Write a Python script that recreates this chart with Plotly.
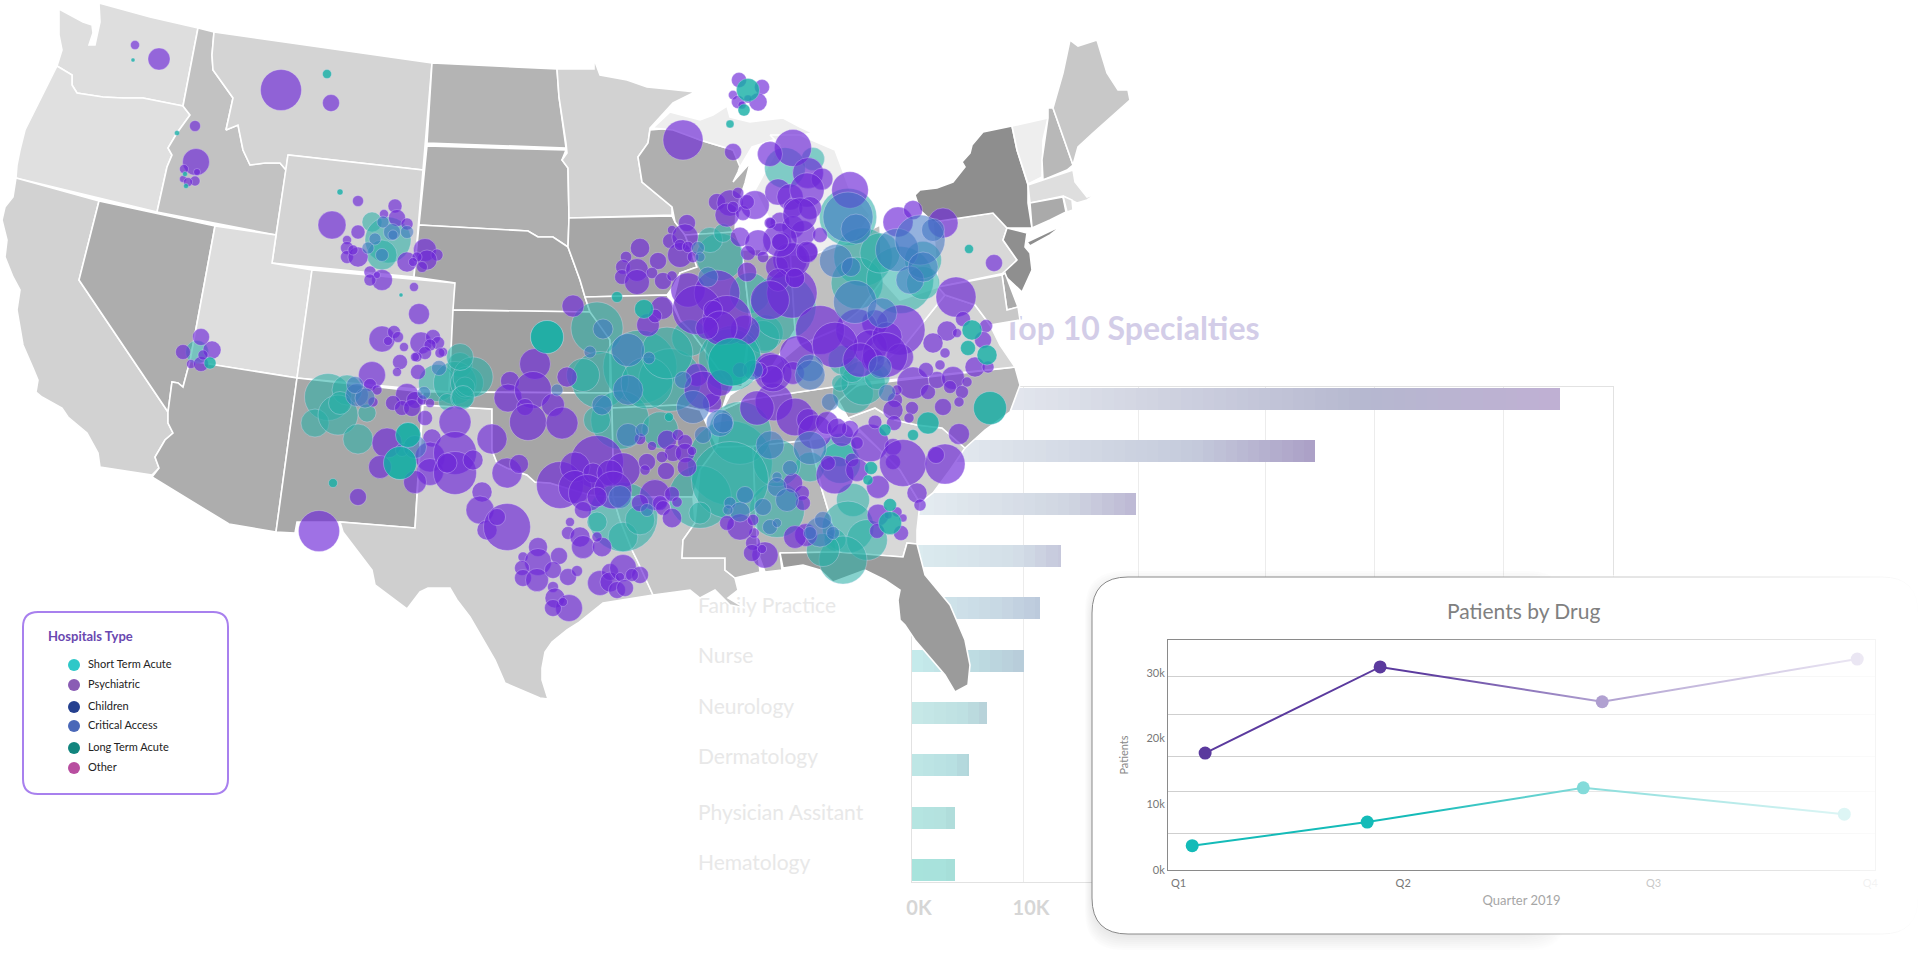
import math
import plotly.graph_objects as go

W, H = 1920, 968
FONT = "Lato"

# ---------- bar chart data ----------
BAR_VALUES = [57.9, 36.0, 20.0, 13.3, 11.4, 10.0, 6.7, 5.1, 3.8, 3.8]
BAR_RANK = [1, 2, 3, 4, 5, 6, 7, 8, 9, 10]
BAR_LEFT = ["#f0f4f6", "#e8eef2", "#e6eef2", "#dcecf0", "#d4eaee", "#c6ecec", "#c8eae8", "#bfe8e6", "#b6e6e2", "#a8e4dd"]
BAR_MID = ["#b6b8d0", "#c5cbdc", "#d0d6e2", "#d4dfe8", "#c8d8e4", "#bcd8e0", "#bee0e2", "#b8e0e2", "#b4e2df", "#a8e2dc"]
BAR_RIGHT = ["#c0b0d4", "#aba0c6", "#bdb8d4", "#c6c8dc", "#bccadc", "#b8cbd9", "#b8d2da", "#b2d6da", "#afdcda", "#a6dfd9"]
LABELS = ["Family Practice", "Nurse", "Neurology", "Dermatology", "Physician Assitant", "Hematology"]
LABEL_PX_Y = [608, 658, 709, 759, 815, 865]
BAR_TICKS = [0, 10, 20.2, 31.6, 41.3, 52.8]
BAR_TICKTEXT = ["0K", "10K", "", "", "", ""]

# ---------- line chart data ----------
QUARTER_TICKS = [1, 1.974, 3.06, 4]
QUARTER_TEXT = ["Q1", "Q2", "Q3", "Q4"]
DRUG_A_X = [1.115, 1.874, 2.837, 3.943]
DRUG_A_Y = [17.8, 30.9, 25.6, 32.1]
DRUG_B_X = [1.059, 1.818, 2.755, 3.887]
DRUG_B_Y = [3.7, 7.3, 12.5, 8.5]
GRID_VALUES = [5.5, 11.9, 17.2, 23.7, 29.4]

# ---------- legend ----------
LEG_NAMES = ["Short Term Acute", "Psychiatric", "Children", "Critical Access", "Long Term Acute", "Other"]
LEG_COLORS = ["#2ec8c8", "#8a5cb4", "#25408f", "#4a68b8", "#12857e", "#b84ea0"]
LEG_Y = [665, 685, 707, 726, 748, 768]

# ---------- map ----------
STATES = {
 "WA": ("#dedede", [(99,3),(150,17),(198,28),(183,106),(143,98),(123,98),(103,97),(77,93),(72,85),(72,75),(57,66),(62,50),(59,35),(59,9),(83,22),(92,25),(93,33),(89,45),(95,45),(100,22)]),
 "OR": ("#e0e0e0", [(57,66),(72,75),(72,85),(77,93),(103,97),(123,98),(143,98),(183,106),(190,115),(177,133),(168,148),(172,155),(167,167),(157,212),(16,178),(17,165),(20,150),(25,130),(40,100)]),
 "CA": ("#d2d2d2", [(16,178),(99,201),(79,280),(168,412),(168,423),(173,433),(165,440),(155,457),(159,468),(152,475),(100,467),(98,453),(87,433),(80,427),(68,417),(62,408),(42,397),(36,392),(38,380),(33,368),(23,345),(17,310),(20,290),(13,277),(5,257),(7,240),(2,220),(5,207),(13,197)]),
 "NV": ("#adadad", [(99,201),(215,226),(190,361),(187,372),(183,387),(178,383),(172,382),(168,412),(79,280)]),
 "ID": ("#c2c2c2", [(198,28),(214,32),(212,55),(213,70),(233,98),(228,120),(226,130),(238,125),(243,150),(250,165),(265,163),(280,163),(286,170),(276,235),(157,212),(167,167),(172,155),(168,148),(177,133),(190,115),(183,106)]),
 "MT": ("#d4d4d4", [(214,32),(432,63),(423,170),(288,155),(286,170),(280,163),(265,163),(250,165),(243,150),(238,125),(226,130),(228,120),(233,98),(213,70),(212,55)]),
 "WY": ("#d4d4d4", [(288,155),(423,170),(414,277),(272,263)]),
 "UT": ("#dedede", [(215,226),(276,235),(272,263),(312,270),(297,378),(190,361)]),
 "AZ": ("#adadad", [(190,361),(297,378),(276,532),(229,524),(152,477),(159,468),(155,457),(165,440),(173,433),(168,423),(168,412),(172,382),(178,383),(183,387),(187,372)]),
 "CO": ("#d2d2d2", [(312,270),(455,283),(449,392),(297,378)]),
 "NM": ("#a8a8a8", [(297,378),(423,392),(415,528),(340,522),(297,522),(295,533),(276,532)]),
 "TX": ("#cfcfcf", [(423,405),(492,409),(492,450),(497,463),(507,468),(527,475),(535,482),(550,483),(590,495),(613,497),(620,520),(632,550),(637,560),(653,595),(603,603),(578,623),(567,630),(552,642),(545,652),(542,668),(542,680),(548,699),(540,698),(505,683),(495,660),(483,640),(470,617),(457,600),(450,588),(428,588),(420,592),(407,609),(375,585),(372,570),(343,532),(340,522),(415,528)]),
 "ND": ("#b4b4b4", [(432,63),(557,69),(559,97),(566,148),(427,143)]),
 "SD": ("#afafaf", [(427,146),(566,150),(562,160),(568,168),(569,218),(568,247),(553,237),(538,237),(528,231),(419,225)]),
 "NE": ("#a6a6a6", [(419,225),(528,231),(538,237),(553,237),(568,247),(580,280),(585,297),(590,312),(453,310),(455,283),(414,277)]),
 "KS": ("#a0a0a0", [(453,310),(590,312),(607,333),(610,340),(610,393),(449,392)]),
 "OK": ("#a6a6a6", [(423,392),(449,392),(610,393),(612,408),(613,455),(613,497),(590,495),(550,483),(535,482),(527,475),(507,468),(497,463),(492,450),(492,409),(423,405)]),
 "MN": ("#d2d2d2", [(557,69),(594,69),(594,59),(600,75),(627,80),(647,87),(667,89),(695,92),(673,103),(650,128),(648,143),(638,157),(642,182),(672,207),(672,215),(569,218),(568,168),(562,160),(567,153),(566,143),(559,97)]),
 "IA": ("#a6a6a6", [(569,218),(672,216),(675,222),(685,235),(697,267),(680,273),(673,287),(667,295),(585,297),(580,280),(568,247)]),
 "MO": ("#a6a6a6", [(585,297),(667,295),(680,320),(690,330),(712,360),(730,385),(722,410),(700,410),(678,405),(612,408),(610,340),(590,312)]),
 "AR": ("#a4a4a4", [(612,408),(678,405),(700,410),(717,447),(700,470),(693,497),(613,497),(613,455)]),
 "LA": ("#c8c8c8", [(613,497),(693,497),(695,523),(683,540),(682,558),(725,558),(725,570),(735,578),(738,590),(728,598),(745,608),(730,605),(715,590),(700,598),(690,590),(673,592),(653,595),(637,560),(632,550),(620,520)]),
 "MS": ("#b8b8b8", [(717,447),(753,446),(755,500),(758,553),(760,572),(735,578),(725,570),(725,558),(682,558),(683,540),(695,523),(700,470)]),
 "AL": ("#b8b8b8", [(753,446),(810,440),(822,490),(832,523),(837,552),(780,553),(782,570),(765,572),(758,553),(755,500)]),
 "GA": ("#d8d8d8", [(810,440),(860,432),(880,450),(900,470),(920,503),(917,530),(917,544),(907,543),(903,557),(837,552),(832,523),(822,490)]),
 "FL": ("#9b9b9b", [(780,553),(837,552),(903,557),(907,543),(917,544),(925,575),(950,605),(965,640),(970,665),(968,685),(955,692),(945,675),(915,640),(905,625),(900,620),(898,600),(900,590),(885,580),(865,570),(833,582),(820,570),(803,565),(783,568)]),
 "SC": ("#d0d0d0", [(848,418),(875,408),(895,420),(917,425),(942,428),(965,448),(950,470),(933,493),(920,503),(900,470),(880,450)]),
 "NC": ("#b5b5b5", [(848,418),(875,408),(895,420),(917,425),(942,428),(965,448),(985,430),(1010,412),(1020,385),(1015,367),(860,385),(835,395)]),
 "TN": ("#b0b0b0", [(717,447),(722,410),(745,400),(860,383),(840,400),(810,440),(753,446)]),
 "KY": ("#c4c4c4", [(722,410),(730,395),(742,387),(770,370),(800,345),(835,330),(860,345),(850,370),(860,383),(745,400)]),
 "VA": ("#d5d5d5", [(860,383),(880,365),(905,345),(925,320),(945,295),(960,300),(975,305),(990,325),(1000,345),(1015,367)]),
 "WV": ("#e0e0e0", [(882,280),(900,300),(938,287),(945,295),(925,320),(905,345),(880,365),(860,345),(835,330),(860,310)]),
 "WI": ("#afafaf", [(650,130),(673,128),(700,140),(733,150),(742,160),(738,172),(733,182),(750,163),(745,183),(736,210),(735,232),(685,235),(675,222),(672,207),(642,182),(638,157),(648,143)]),
 "IL": ("#a8a8a8", [(685,235),(735,232),(742,250),(750,320),(745,360),(742,387),(730,385),(712,360),(690,330),(680,320),(673,302),(680,273),(697,267)]),
 "IN": ("#b0b0b0", [(742,250),(790,248),(795,330),(770,370),(745,375),(750,320)]),
 "OH": ("#c0c0c0", [(790,248),(812,255),(850,240),(880,225),(882,280),(860,310),(835,330),(800,345),(795,330)]),
 "MIU": ("#eeeeee", [(653,128),(670,112),(700,120),(713,115),(727,106),(730,117),(750,122),(783,118),(800,127),(813,133),(773,140),(752,147),(740,167),(733,150),(700,140),(673,130)]),
 "MIL": ("#eeeeee", [(770,135),(800,135),(835,150),(850,190),(870,215),(855,240),(812,255),(760,255),(770,220),(755,190),(780,145)]),
 "PA": ("#d8d8d8", [(933,222),(993,213),(1007,228),(1003,240),(1017,260),(1005,273),(938,287)]),
 "NY": ("#8e8e8e", [(915,195),(920,190),(937,188),(953,182),(965,167),(962,162),(970,153),(972,145),(983,132),(1012,126),(1017,150),(1028,185),(1028,203),(1032,228),(1007,228),(993,213),(933,222),(920,210)]),
 "LI": ("#8e8e8e", [(1027,242),(1053,230),(1063,225),(1050,235),(1030,246)]),
 "NJ": ("#8f8f8f", [(1007,228),(1027,233),(1025,247),(1030,253),(1032,270),(1022,292),(1007,278),(1003,273),(1017,260),(1003,240)]),
 "VT": ("#eeeeee", [(1012,126),(1048,118),(1043,140),(1042,177),(1028,184),(1017,150)]),
 "NH": ("#b8b8b8", [(1048,108),(1053,108),(1073,165),(1067,170),(1043,180),(1042,160),(1048,118)]),
 "ME": ("#c8c8c8", [(1053,108),(1063,73),(1070,40),(1078,46),(1097,40),(1107,73),(1118,90),(1128,90),(1130,100),(1107,120),(1093,133),(1078,147),(1073,165)]),
 "MA": ("#dedede", [(1028,185),(1073,170),(1075,182),(1087,197),(1098,193),(1087,200),(1077,203),(1063,196),(1030,203)]),
 "CT": ("#aaaaaa", [(1030,203),(1063,197),(1066,212),(1050,220),(1032,228)]),
 "RI": ("#dddddd", [(1063,196),(1072,200),(1073,210),(1067,212)]),
 "DE": ("#aaaaaa", [(1002,275),(1005,273),(1018,307),(1007,310)]),
 "MD": ("#c8c8c8", [(938,287),(1002,275),(1007,310),(1018,307),(1020,320),(990,325),(975,305),(960,300),(945,295)]),
}

# ---------- bubbles (x, y, diameter) ----------
SHORT_TERM = [
 (372,222,20),(388,240,46),(382,255,30),(197,352,23),
 (460,365,25),(437,383,37),(455,383,43),(467,383,33),(447,402,17),(462,398,23),(465,387,20),(473,377,40),(460,357,27),(463,397,23),
 (328,397,47),(347,390,30),(315,423,28),(338,415,40),(358,439,30),(367,413,18),(340,403,23),
 (408,435,25),(400,463,33),
 (623,517,63),(597,522,20),(623,537,27),(640,520,27),
 (547,337,33),(597,328,52),
 (640,367,67),(600,380,57),(583,375,33),(620,420,53),(660,430,33),(597,420,27),(670,380,57),(690,338,33),(647,383,47),(667,353,47),
 (720,257,43),(710,240,23),(723,233,17),(750,293,37),(765,333,33),(733,353,50),
 (848,217,52),(863,257,53),(857,283,47),(900,280,67),(923,283,33),(923,260,37),(880,253,40),(813,159,23),(785,168,37),
 (763,337,30),(730,360,57),(783,307,60),(843,360,27),
 (853,393,37),(863,383,40),(840,383,15),(852,370,23),(877,377,23),
 (840,450,30),(840,463,37),(810,467,27),
 (853,500,30),(848,527,47),(867,540,37),(835,540,20),(843,560,48),(823,550,30),
 (730,463,77),(740,433,57),(777,510,50),(777,463,43),(700,497,57),(730,480,70),(700,513,20),
]
PSYCHIATRIC = [
 (135,45,9),(159,59,22),(281,90,41),(331,103,17),(195,126,11),(196,162,27),(184,169,9),(197,172,7),(195,181,10),(183,179,7),(188,182,9),
 (358,201,11),(332,225,28),(395,206,14),(384,214,9),(397,218,17),(407,224,12),(358,232,14),(347,240,9),(347,248,13),(347,257,13),(358,257,20),(353,250,10),
 (425,250,23),(407,262,20),(437,255,12),(427,260,20),(417,257,10),(422,267,11),(413,262,9),(370,272,12),(382,280,21),(370,280,12),(377,275,7),
 (414,287,9),(419,314,21),(994,263,17),(183,352,15),(212,350,18),(201,337,17),(191,364,9),(201,364,15),(203,355,10),
 (382,339,26),(394,332,13),(388,341,9),(398,337,11),(404,347,9),(421,343,22),(433,337,15),(438,343,13),(430,345,12),(443,352,9),(425,353,13),(417,357,10),
 (400,362,15),(397,372,9),(415,357,9),(418,372,15),(440,353,10),
 (372,375,27),(370,385,13),(377,390,10),(373,402,10),
 (407,395,23),(393,403,15),(402,408,15),(415,400,17),(412,408,17),(425,418,15),(422,400,10),(430,403,9),
 (387,443,30),(380,467,23),(432,438,18),(430,457,30),(430,472,27),(415,482,23),(455,422,32),(455,453,43),(455,473,43),(447,463,20),(473,460,20),
 (358,497,17),(319,531,41),
 (535,364,31),(510,381,19),(508,398,28),(533,390,37),(525,407,17),(553,405,23),(528,422,37),(562,423,32),(567,377,20),
 (492,439,30),(482,492,20),(480,510,28),(487,530,20),(507,527,47),(497,517,17),(507,473,30),(519,464,19),
 (597,462,53),(560,485,47),(575,467,30),(575,487,33),(593,473,20),(623,470,30),(610,473,23),(587,493,37),(613,490,33),(597,497,20),(583,510,17),
 (570,522,9),(568,533,13),(580,537,20),(583,547,23),(602,547,17),(597,537,10),
 (655,495,27),(640,503,15),(660,503,13),(672,494,13),(677,502,9),(663,508,13),(672,518,17),
 (538,547,19),(523,557,10),(538,562,27),(559,556,17),(522,568,15),(523,578,17),(537,580,23),(553,570,17),(568,577,17),(577,571,11),(553,587,11),(555,598,20),(569,608,27),(553,608,17),(563,602,9),
 (600,583,25),(610,572,17),(610,582,20),(623,568,27),(640,575,17),(617,590,17),(620,577,9),(632,575,13),(625,588,17),
 (573,306,22),(662,308,20),(648,325,20),(655,316,12),
 (687,223,15),(672,230,8),(670,241,13),(685,237,23),(680,255,22),(680,245,10),(688,247,10),(693,257,10),
 (640,248,17),(626,257,10),(658,261,15),(623,267,13),(622,277,13),(637,270,20),(637,282,22),(652,273,10),(663,281,15),(672,276,9),
 (683,140,40),(733,152,17),(739,80,15),(762,87,15),(758,102,18),(733,95,9),(738,102,13),(748,99,8),(742,105,8),
 (717,202,15),(730,203,23),(755,205,25),(727,215,21),(743,213,13),(738,193,10),(747,202,13),(733,207,10),
 (793,148,37),(770,154,25),(808,173,27),(822,179,19),(778,192,23),(790,197,23),(807,190,30),(793,208,17),(810,208,20),(780,222,17),(771,223,9),(793,227,20),(803,233,22),(820,235,13),(782,242,17),(790,260,30),(808,252,17),(777,267,20),(795,278,17),
 (850,190,32),(898,222,30),(913,210,19),(943,223,30),(956,297,40),
 (900,330,50),(875,323,23),(857,330,37),(870,347,30),(887,337,30),(900,357,27),(873,360,20),
 (792,293,44),(793,260,30),(807,252,19),(778,280,20),(795,278,17),(820,330,43),(797,353,30),(770,368,27),(757,370,13),
 (835,345,40),(885,355,45),(860,360,30),(780,240,30),(800,215,30),(770,300,34),(745,330,26),
 (740,237,17),(758,243,23),(748,253,13),(763,257,10),(747,272,17),(770,223,10),(780,242,15),
 (688,290,30),(717,293,40),(697,310,43),(727,320,43),(713,310,17),(720,328,30),(707,328,20),
 (774,402,33),(757,408,30),(795,417,33),(808,420,20),(815,432,30),(827,423,20),(842,435,20),(850,429,15),(837,428,17),
 (835,475,33),(852,460,12),(828,463,13),(870,443,33),(857,443,11),(893,447,17),(893,462,15),(903,463,47),(945,464,40),(936,455,17),(857,470,20),(878,487,20),(917,493,20),(920,505,12),
 (806,535,20),(795,537,20),
 (878,515,19),(897,512,10),(888,515,8),(903,518,8),(901,533,15),(877,531,13),
 (765,555,23),(753,543,13),(752,553,15),(762,549,8),(754,533,9),
 (793,483,17),(802,493,13),(803,503,13),(740,527,23),(727,523,13),(753,520,10),
 (697,375,20),(712,403,17),(703,390,33),(720,383,23),(740,370,13),(773,373,33),
 (667,440,17),(678,435,10),(685,442,13),(673,453,15),(685,453,17),(662,457,10),(692,451,8),(687,467,17),(647,462,15),(666,471,15),(645,470,9),(640,439,10),(652,446,8),
 (947,331,20),(933,343,20),(963,319,15),(986,326,13),(957,333,9),(983,340,17),(945,353,10),(940,365,10),(975,367,20),(988,367,12),
 (913,383,32),(928,392,15),(895,400,15),(893,410,20),(912,408,13),(943,407,17),(937,380,17),(953,378,23),(950,387,13),(962,392,13),(959,402,10),(967,382,10),(926,370,15),(875,422,12),(894,423,15),(909,418,10),(959,434,21),(897,390,10),
 (793,373,20),(772,377,20),(760,370,13),
]
CRITICAL_ACCESS = [
 (392,232,17),(407,232,13),(383,222,12),(375,239,12),(368,248,12),(382,255,13),(393,235,10),
 (357,395,23),(365,398,20),(355,385,17),(424,393,13),(402,450,13),(415,447,23),(439,368,15),(557,390,12),
 (620,497,23),(647,510,13),(603,329,20),(590,352,12),(628,390,30),(628,350,33),(602,405,20),(649,358,12),
 (698,248,13),(700,257,10),(708,277,20),
 (848,217,50),(856,229,30),(836,261,33),(851,267,19),(897,250,43),(920,240,50),(933,230,23),(910,280,28),(923,267,30),
 (855,302,43),(882,313,30),(880,367,23),(810,368,27),(810,375,30),
 (810,448,33),(887,393,17),(830,402,17),
 (820,532,30),(823,520,17),(833,533,13),(810,533,13),
 (720,423,27),(770,445,28),(790,468,15),(745,495,17),(730,503,12),(777,477,10),(777,487,19),(787,500,23),(763,507,17),(770,527,15),(777,523,9),(740,512,20),(728,510,10),
 (693,407,33),(723,423,20),(703,435,17),(683,380,17),(628,435,23),(642,430,13),(753,370,20),
]
LONG_TERM = [
 (133,60,4),(327,74,9),(177,133,5),(185,174,5),(186,186,5),(340,192,6),(401,295,4),(210,363,12),(333,483,9),
 (617,297,11),(644,309,19),(669,417,9),(730,124,8),(748,90,23),(744,110,12),
 (972,330,20),(968,348,15),(987,355,20),(990,408,33),(928,423,22),(913,435,11),(885,430,12),
 (871,468,13),(868,480,10),(890,505,13),(890,523,23),(547,337,33),(408,435,25),(400,463,33),(732,362,48),
 (969,249,9),
]

# ---------- rendering helpers ----------
def hex_rgb(c):
    return [int(c[i:i+2], 16) for i in (1, 3, 5)]

def mix(a, b, t):
    return [a[i] + (b[i] - a[i]) * t for i in range(3)]

def grad(i, t):
    l, m, r = hex_rgb(BAR_LEFT[i]), hex_rgb(BAR_MID[i]), hex_rgb(BAR_RIGHT[i])
    c = mix(l, m, t / 0.7) if t < 0.7 else mix(m, r, (t - 0.7) / 0.3)
    return "rgb(%d,%d,%d)" % tuple(c)

def round_rect(x0, y0, x1, y1, r):
    return (f"M{x0+r},{y0} L{x1-r},{y0} Q{x1},{y0} {x1},{y0+r} L{x1},{y1-r} Q{x1},{y1} {x1-r},{y1} "
            f"L{x0+r},{y1} Q{x0},{y1} {x0},{y1-r} L{x0},{y0+r} Q{x0},{y0} {x0+r},{y0} Z")

fig = go.Figure()

# ---- subplot 1: texts that sit under the map ----
fig.add_trace(go.Scatter(
    x=[698] * len(LABELS), y=LABEL_PX_Y, text=LABELS, mode="text",
    textposition="middle right", textfont=dict(family=FONT, size=21, color="#e8e8e8"),
    xaxis="x", yaxis="y", showlegend=False, hoverinfo="skip"))
fig.add_trace(go.Scatter(
    x=[1003], y=[332], text=["Top 10 Specialties"], mode="text",
    textposition="middle right", textfont=dict(family=FONT, size=32, color="#d3cde8", weight=700),
    xaxis="x", yaxis="y", showlegend=False, hoverinfo="skip"))

# ---- subplot 2: bars, one stacked slice per 1K so the gradient reads through ----
SLICE = 1.0
for s in range(math.ceil(max(BAR_VALUES) / SLICE)):
    lens = [max(0.0, min(SLICE, v - s * SLICE)) for v in BAR_VALUES]
    cols = [grad(i, min(1.0, (s + 0.5) * SLICE / BAR_VALUES[i])) for i in range(len(BAR_VALUES))]
    fig.add_trace(go.Bar(
        x=lens, y=BAR_RANK, orientation="h", width=0.42,
        marker=dict(color=cols, line=dict(width=0)),
        xaxis="x2", yaxis="y2", showlegend=False, hoverinfo="skip"))

# ---- subplot 3: map ----
for name, (color, pts) in STATES.items():
    xs = [p[0] for p in pts] + [pts[0][0]]
    ys = [p[1] for p in pts] + [pts[0][1]]
    fig.add_trace(go.Scatter(x=xs, y=ys, mode="lines", fill="toself", fillcolor=color,
                             line=dict(color="#ffffff", width=1.6), xaxis="x3", yaxis="y3",
                             showlegend=False, hoverinfo="skip", name=name))

def dense(b):
    return 600 < b[0] < 880 and 160 < b[1] < 560

def bubbles(data, color, name, grow=1.0):
    fig.add_trace(go.Scatter(
        x=[b[0] for b in data], y=[b[1] for b in data], mode="markers", name=name,
        marker=dict(size=[b[2] * grow if dense(b) else b[2] for b in data], color=color, opacity=1,
                    line=dict(color="rgba(235,230,255,0.30)", width=1)),
        xaxis="x3", yaxis="y3", showlegend=False))

bubbles(SHORT_TERM, "rgba(40,175,165,0.56)", "Short Term Acute", 1.1)
bubbles(PSYCHIATRIC, "rgba(110,40,215,0.66)", "Psychiatric", 1.14)
bubbles(CRITICAL_ACCESS, "rgba(60,115,195,0.55)", "Critical Access")
bubbles(LONG_TERM, "rgba(20,175,165,0.80)", "Long Term Acute")

# legend inside the map layer
fig.add_trace(go.Scatter(x=[74] * 6, y=LEG_Y, mode="markers",
                         marker=dict(size=12, color=LEG_COLORS, opacity=1), xaxis="x3", yaxis="y3",
                         showlegend=False, hoverinfo="skip"))
fig.add_trace(go.Scatter(x=[88] * 6, y=LEG_Y, mode="text", text=LEG_NAMES, textposition="middle right",
                         textfont=dict(family=FONT, size=11, color="#222222"), xaxis="x3", yaxis="y3",
                         showlegend=False, hoverinfo="skip"))
fig.add_trace(go.Scatter(x=[48], y=[638], mode="text", text=["Hospitals Type"], textposition="middle right",
                         textfont=dict(family=FONT, size=13, color="#6a48b0", weight=700), xaxis="x3", yaxis="y3",
                         showlegend=False, hoverinfo="skip"))

# ---- subplot 4: card background (needs one trace so the layer exists) ----
fig.add_trace(go.Scatter(x=[1092], y=[934], mode="markers", marker=dict(size=1, color="rgba(255,255,255,0)"),
                         xaxis="x4", yaxis="y4", showlegend=False, hoverinfo="skip"))

# ---- subplot 5: line chart ----
fig.add_trace(go.Scatter(x=DRUG_A_X, y=DRUG_A_Y, mode="lines+markers", name="Drug A",
                         line=dict(color="#5b3a9e", width=2), marker=dict(size=13, color="#5b3a9e"),
                         xaxis="x5", yaxis="y5", showlegend=False))
fig.add_trace(go.Scatter(x=DRUG_B_X, y=DRUG_B_Y, mode="lines+markers", name="Drug B",
                         line=dict(color="#14bbb8", width=2), marker=dict(size=13, color="#14bbb8"),
                         xaxis="x5", yaxis="y5", showlegend=False))

shapes = []
shapes.append(dict(type="path", path=round_rect(23, 612, 228, 794, 15), xref="x3", yref="y3", layer="below",
                   fillcolor="#ffffff", line=dict(color="#a880ee", width=2)))
for k in range(8):
    g = 14 - k * 2
    shapes.append(dict(type="path", path=round_rect(1092 - g * 0.5, 577 + 8 - g, 1560 + g * 0.5, 934 + 2 + g, 38),
                       xref="x4", yref="y4", layer="below", fillcolor="rgba(0,0,0,0.010)", line=dict(width=0)))
shapes.append(dict(type="path", path=round_rect(1092, 577, 1918, 934, 36), xref="x4", yref="y4", layer="below",
                   fillcolor="#ffffff", line=dict(color="#8a8a8a", width=1)))

def fade(x):
    pts = [(1420, 0), (1600, 0.52), (1860, 0.88), (1920, 1.0)]
    for (a, p), (b, q) in zip(pts, pts[1:]):
        if x <= b:
            return p + (q - p) * (x - a) / (b - a)
    return 1.0

for x in range(1420, 1920, 10):
    shapes.append(dict(type="rect", xref="paper", yref="paper", layer="above",
                       x0=x / W, x1=(x + 10) / W, y0=1 - 955 / H, y1=1 - 575 / H,
                       fillcolor=f"rgba(255,255,255,{fade(x + 5):.3f})", line=dict(width=0)))

page_axis = dict(showgrid=False, zeroline=False, showticklabels=False, showline=False, ticks="", fixedrange=True)

fig.update_layout(
    width=W, height=H, autosize=False,
    margin=dict(l=0, r=0, t=0, b=0, pad=0, autoexpand=False),
    paper_bgcolor="#ffffff", plot_bgcolor="rgba(0,0,0,0)",
    barmode="stack", bargap=0, showlegend=False, font=dict(family=FONT),
    shapes=shapes,
    annotations=[dict(text="Patients by Drug", xref="paper", yref="paper", x=1523 / W, y=1 - 610 / H,
                      xanchor="center", yanchor="middle", showarrow=False,
                      font=dict(family=FONT, size=21, color="#808080"))],
    xaxis=dict(domain=[0, 1], range=[0, W], anchor="y", **page_axis),
    yaxis=dict(domain=[0, 1], range=[H, 0], anchor="x", **page_axis),
    xaxis2=dict(domain=[912 / W, 1613 / W], range=[0, 62.6], anchor="y2", tickmode="array", tickvals=BAR_TICKS, ticktext=BAR_TICKTEXT,
                showgrid=True, gridcolor="#ececec", gridwidth=1, zeroline=False, showline=True, linecolor="#e2e2e2",
                mirror=True, ticks="", ticklabelshift=7, ticklabelstandoff=8,
                tickfont=dict(family=FONT, size=20, color="#d6d6d6", weight=700), fixedrange=True),
    yaxis2=dict(domain=[1 - 882 / H, 1 - 387 / H], range=[10.23, 0.77], anchor="x2", showgrid=False, zeroline=False,
                showticklabels=False, showline=True, linecolor="#e2e2e2", mirror=True, ticks="", fixedrange=True),
    xaxis3=dict(domain=[0, 1], range=[0, W], anchor="y3", **page_axis),
    yaxis3=dict(domain=[0, 1], range=[H, 0], anchor="x3", **page_axis),
    xaxis4=dict(domain=[0, 1], range=[0, W], anchor="y4", **page_axis),
    yaxis4=dict(domain=[0, 1], range=[H, 0], anchor="x4", **page_axis),
    xaxis5=dict(domain=[1168 / W, 1875 / W], range=[0.954, 4.02], anchor="y5", tickmode="array",
                tickvals=QUARTER_TICKS, ticktext=QUARTER_TEXT, showgrid=False, zeroline=False,
                showline=True, linecolor="#8a8a8a", mirror=True, ticks="", ticklabelstandoff=3,
                tickfont=dict(family=FONT, size=11, color="#777777"),
                title=dict(text="Quarter 2019", font=dict(family=FONT, size=13, color="#a6a6a6"), standoff=7),
                fixedrange=True),
    yaxis5=dict(domain=[1 - 870 / H, 1 - 640 / H], range=[0, 35], anchor="x5", tickmode="array",
                tickvals=[0, 10, 20, 30], ticktext=["0k", "10k", "20k", "30k"], showgrid=False, zeroline=False,
                showline=True, linecolor="#8a8a8a", mirror=True, ticks="",
                minor=dict(tickmode="array", tickvals=GRID_VALUES, showgrid=True, gridcolor="#cfcfcf", gridwidth=1, ticks=""),
                tickfont=dict(family=FONT, size=11, color="#777777"),
                title=dict(text="Patients", font=dict(family=FONT, size=11, color="#888888"), standoff=15),
                fixedrange=True),
)

fig.write_html("out.html", config=dict(displayModeBar=False),
               post_script="document.body.style.margin='0px';document.body.style.overflow='hidden';")
